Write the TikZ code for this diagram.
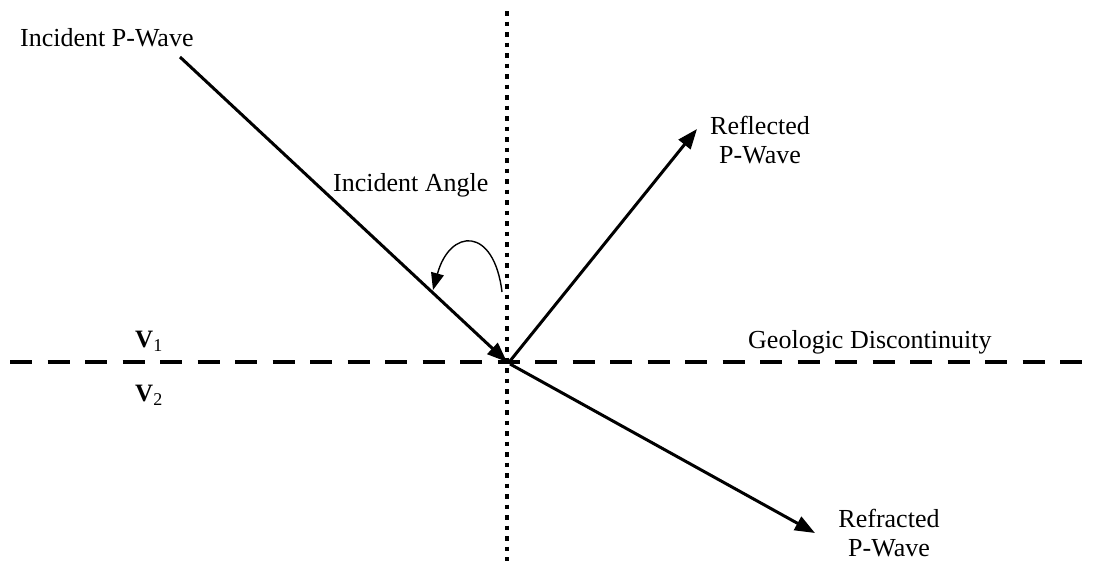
\documentclass[tikz,border=0pt]{standalone}
\usepackage{fontspec}
\setmainfont{Liberation Serif}
\usetikzlibrary{arrows.meta}
\begin{document}
\begin{tikzpicture}[x=1pt,y=-1pt,
  lbl/.style={font=\fontsize{26}{29}\selectfont, inner sep=0pt, align=center},
  ray/.style={line width=3pt, -{Triangle[length=20pt,width=15pt]}},
  guide/.style={line width=4.5pt},
  thin arrow/.style={line width=1.4pt, -{Triangle[length=17pt,width=13pt]}}]
\useasboundingbox (0,0) rectangle (1093,563);
% guide lines
\coordinate (vt) at (507,11);
\coordinate (vb) at (507,561);
\coordinate (hl) at (10,362);
\coordinate (hr) at (1093,362);
\draw[guide, dash pattern=on 4.5pt off 6pt] (vt) -- (vb);
\draw[guide, dash pattern=on 22pt off 15.5pt] (hl) -- (hr);
% rays
\coordinate (A) at (180,57);
\coordinate (O) at (507,362);
\coordinate (O2) at (510,361);
\coordinate (O3) at (510,364);
\coordinate (R) at (697,129);
\coordinate (T) at (815,533);
\draw[ray] (A) -- (O);
\draw[ray] (O2) -- (R);
\draw[ray] (O3) -- (T);
% angle arrow
\coordinate (c1) at (502,292);
\coordinate (c2) at (433,290);
\draw[thin arrow] (c1) .. controls (494,226) and (450,228) .. (c2);
% labels
\node[lbl, anchor=west] (inc) at (20,38) {Incident P-Wave};
\node[lbl, anchor=west] (ang) at (333,185) {Incident Angle};
\node[lbl] (refl) at (760,140) {Reflected\\P-Wave};
\node[lbl] (refr) at (889,533) {Refracted\\P-Wave};
\node[lbl, anchor=west] (geo) at (748,342) {Geologic Discontinuity};
\node[lbl, anchor=west, font=\fontsize{25}{28}\selectfont\bfseries] (v1) at (135,341) {V\raisebox{-0.35ex}{\fontsize{18}{20}\selectfont\mdseries 1}};
\node[lbl, anchor=west, font=\fontsize{25}{28}\selectfont\bfseries] (v2) at (135,395) {V\raisebox{-0.35ex}{\fontsize{18}{20}\selectfont\mdseries 2}};
\end{tikzpicture}
\end{document}
